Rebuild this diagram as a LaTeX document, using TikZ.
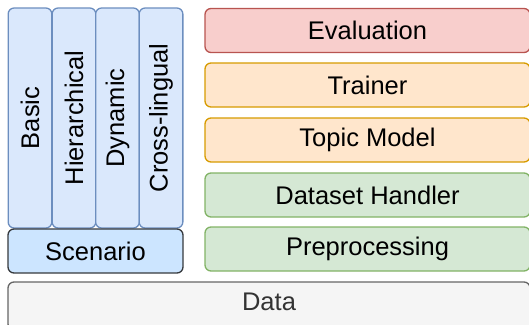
\documentclass[tikz,border=0pt]{standalone}
\usepackage{fontspec}
\setmainfont{Liberation Sans}
\definecolor{redF}{HTML}{F8CECC}\definecolor{redD}{HTML}{B85450}
\definecolor{orF}{HTML}{FFE6CC}\definecolor{orD}{HTML}{D79B00}
\definecolor{grF}{HTML}{D5E8D4}\definecolor{grD}{HTML}{82B366}
\definecolor{blF}{HTML}{DAE8FC}\definecolor{blD}{HTML}{6C8EBF}
\definecolor{scF}{HTML}{CCE5FF}\definecolor{scD}{HTML}{36393D}
\definecolor{daF}{HTML}{F5F5F5}\definecolor{daD}{HTML}{666666}\definecolor{daT}{HTML}{333333}
\tikzset{
  txt/.style={font=\fontsize{25.5}{30}\selectfont},
  box/.style={rectangle, rounded corners=6pt, line width=1.3pt, inner sep=0pt, txt},
  rbox/.style={box, minimum width=325pt, minimum height=44pt},
  col/.style={box, fill=blF, draw=blD, minimum width=220pt, minimum height=43.7pt, rotate=90},
}
\begin{document}
\begin{tikzpicture}[x=1pt,y=-1pt]
\useasboundingbox (0,0) rectangle (529,324);
\clip (0,0) rectangle (529,324);
\node[col] (basic) at (30,118) {Basic};
\node[col] (hier) at (74,118) {Hierarchical};
\node[col] (dyn) at (117.5,118) {Dynamic};
\node[col] (cross) at (161,118) {Cross-lingual};
\node[box, fill=scF, draw=scD, minimum width=175pt, minimum height=44pt] (scen) at (95.5,251) {Scenario};
\node[rbox, fill=redF, draw=redD] (eval) at (367.5,30.5) {Evaluation};
\node[rbox, fill=orF, draw=orD] (train) at (367.5,85) {Trainer};
\node[rbox, fill=orF, draw=orD] (topic) at (367.5,140) {Topic Model};
\node[rbox, fill=grF, draw=grD] (dset) at (367.5,195) {Dataset Handler};
\node[rbox, fill=grF, draw=grD] (prep) at (367.5,249) {Preprocessing};
\node[box, fill=daF, draw=daD, minimum width=522pt, minimum height=48pt] (data) at (269,306) {};
\node[txt, text=daT] (datat) at (269,302) {Data};
\end{tikzpicture}
\end{document}
